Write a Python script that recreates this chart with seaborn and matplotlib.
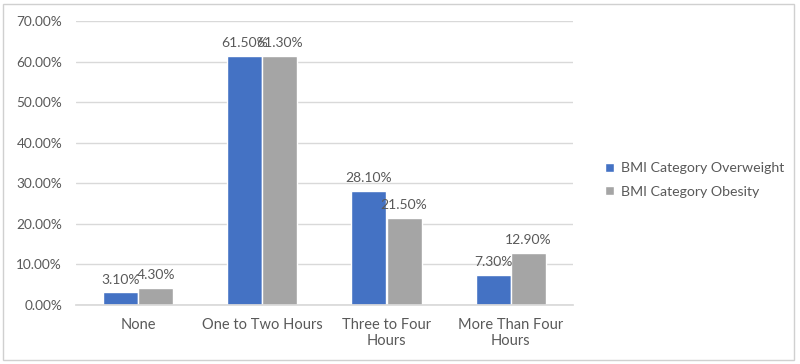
#!/usr/bin/env python3
"""Screen time vs BMI category: grouped bars, Excel-like look."""

import matplotlib
matplotlib.use("Agg")

import matplotlib.pyplot as plt
import matplotlib.patches as mpatches
from matplotlib.ticker import FuncFormatter
import pandas as pd
import seaborn as sns

# ── Data ───────────────────────────────────────────────────────────────

categories = ["None", "One to Two Hours", "Three to Four\nHours", "More Than Four\nHours"]
series_names = ["BMI Category Overweight", "BMI Category Obesity"]
overweight = [3.10, 61.50, 28.10, 7.30]
obesity = [4.30, 61.30, 21.50, 12.90]

BLUE = "#4472C4"
GRAY = "#A5A5A5"
TEXT = "#595959"

df = pd.DataFrame({
    "category": categories * 2,
    "series": [series_names[0]] * 4 + [series_names[1]] * 4,
    "value": overweight + obesity,
})

# ── Plot ───────────────────────────────────────────────────────────────

sns.set_theme(style="white")
plt.rcParams["font.family"] = ["Lato", "DejaVu Sans"]

fig = plt.figure(figsize=(8.0, 3.64), dpi=100)
ax = fig.add_axes([0.095, 0.162, 0.621, 0.780])

sns.barplot(
    data=df, x="category", y="value", hue="series",
    palette=[BLUE, GRAY], width=0.565, saturation=1, ax=ax,
)

for container in ax.containers:
    ax.bar_label(container, fmt="%.2f%%", fontsize=10, color=TEXT, padding=5)

ax.set_ylim(0, 70)
ax.set_yticks(range(0, 71, 10))
ax.yaxis.set_major_formatter(FuncFormatter(lambda v, _: f"{v:.2f}%"))
ax.set_xlabel("")
ax.set_ylabel("")
ax.tick_params(axis="both", colors=TEXT, length=0)
ax.tick_params(axis="y", labelsize=9.8, pad=10)
ax.tick_params(axis="x", labelsize=10.5, pad=9)

ax.grid(axis="y", color="#D9D9D9", linewidth=1)
ax.set_axisbelow(True)
for side in ["top", "right", "left"]:
    ax.spines[side].set_visible(False)
ax.spines["bottom"].set_color("#D9D9D9")

leg = ax.legend(
    loc="center left", bbox_to_anchor=(1.04, 0.44), frameon=False,
    fontsize=10.2, handlelength=0.6, handleheight=0.6, labelspacing=0.8,
    handletextpad=0.5,
)
for t in leg.get_texts():
    t.set_color(TEXT)

# chart-area border
fig.patches.append(mpatches.Rectangle(
    (0.004, 0.012), 0.988, 0.978, transform=fig.transFigure,
    fill=False, edgecolor="#D0D0D0", linewidth=1,
))

fig.savefig("out.png", dpi=100)
